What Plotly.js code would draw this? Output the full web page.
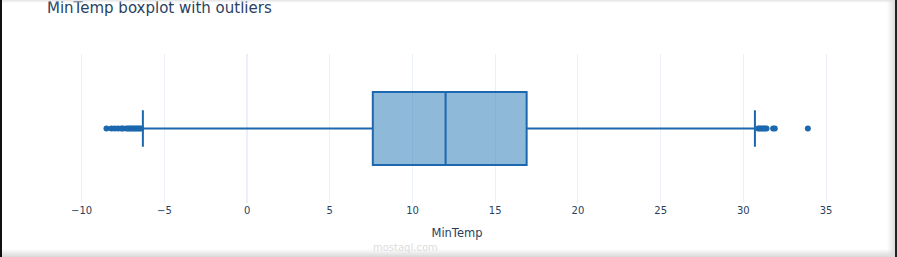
<!DOCTYPE html>
<html>
<head>
<meta charset="utf-8">
<script src="https://cdn.plot.ly/plotly-3.0.1.min.js"></script>
<style>
  html, body { margin: 0; padding: 0; background: #fff; overflow: hidden; }
  #wrap { position: relative; width: 897px; height: 257px; }
  #chart { position: absolute; left: 0; top: 0; width: 897px; height: 257px; }
  .ov { position: absolute; pointer-events: none; }
</style>
</head>
<body>
<div id="wrap">
  <div id="chart"></div>
  <div class="ov" style="left:0;top:0;width:897px;height:3px;background:linear-gradient(#e4e4e4,#ffffff00);"></div>
  <div class="ov" style="left:0;top:249px;width:897px;height:8px;background:linear-gradient(#ffffff00,#d8d8d8);"></div>
  <div class="ov" style="left:887px;top:0;width:8px;height:257px;background:linear-gradient(90deg,#ffffff00,#dcdcdc);"></div>
  <div class="ov" style="left:0;top:0;width:2px;height:257px;background:#111;"></div>
  <div class="ov" style="left:895px;top:0;width:2px;height:257px;background:#222;"></div>
</div>
<script>
// Box statistics for MinTemp
const seriesName = "MinTemp";
const q1 = [7.6];
const median = [12.0];
const q3 = [16.9];
const lowerFence = [-6.3];
const upperFence = [30.7];

// Outliers
const outliersLow = [-8.5, -8.2, -8.0, -7.8, -7.6, -7.5, -7.3, -7.2, -7.1, -7.0, -6.9, -6.8, -6.7, -6.6, -6.5, -6.4];
const outliersHigh = [30.9, 31.0, 31.1, 31.2, 31.3, 31.4, 31.8, 31.9, 33.9];

// Axis ticks
const tickVals = [-10, -5, 0, 5, 10, 15, 20, 25, 30, 35];
const tickText = ["\u221210", "\u22125", "0", "5", "10", "15", "20", "25", "30", "35"];

const lineBlue = "#1b68ae";
const font = "DejaVu Sans, Verdana, sans-serif";

const outliers = outliersLow.concat(outliersHigh);

const traces = [
  {
    type: "box",
    orientation: "h",
    name: seriesName,
    y: [0],
    q1: q1,
    median: median,
    q3: q3,
    lowerfence: lowerFence,
    upperfence: upperFence,
    boxpoints: false,
    width: 0.49,
    whiskerwidth: 0.5,
    line: { color: lineBlue, width: 2 },
    fillcolor: "rgba(31,115,178,0.5)",
    hoverinfo: "x",
    showlegend: false
  },
  {
    type: "scatter",
    mode: "markers",
    x: outliers,
    y: outliers.map(() => 0),
    marker: { color: lineBlue, size: 6 },
    hoverinfo: "x",
    showlegend: false
  }
];

const layout = {
  width: 897,
  height: 257,
  paper_bgcolor: "#ffffff",
  plot_bgcolor: "#ffffff",
  margin: { l: 60, r: 43, t: 54, b: 54, pad: 0 },
  font: { family: font, color: "#2a3f5f" },
  title: {
    text: "MinTemp boxplot with outliers",
    font: { family: font, size: 15, color: "#2a3f5f" },
    xref: "container", yref: "container",
    x: 47 / 897, xanchor: "left",
    y: 1 - 8 / 257, yanchor: "middle"
  },
  xaxis: {
    range: [-11.31, 36.69],
    tickvals: tickVals,
    ticktext: tickText,
    tickfont: { family: font, size: 10, color: "#2a3f5f" },
    showgrid: true,
    gridcolor: "#EBF0F8",
    gridwidth: 1,
    zeroline: true,
    zerolinecolor: "#EBF0F8",
    zerolinewidth: 2,
    showline: false,
    ticks: "",
    title: { text: "MinTemp", font: { family: font, size: 11.5, color: "#2a3f5f" }, standoff: 13 }
  },
  yaxis: {
    range: [-0.5, 0.5],
    showticklabels: false,
    showgrid: false,
    zeroline: false,
    ticks: ""
  },
  annotations: [
    {
      text: "mostaql.com",
      xref: "paper", yref: "paper",
      x: 0.435, y: -0.3,
      xanchor: "center", yanchor: "middle",
      showarrow: false,
      font: { family: font, size: 10, color: "#dddddd" }
    }
  ]
};

Plotly.newPlot("chart", traces, layout, { displayModeBar: false, staticPlot: true });
</script>
</body>
</html>
